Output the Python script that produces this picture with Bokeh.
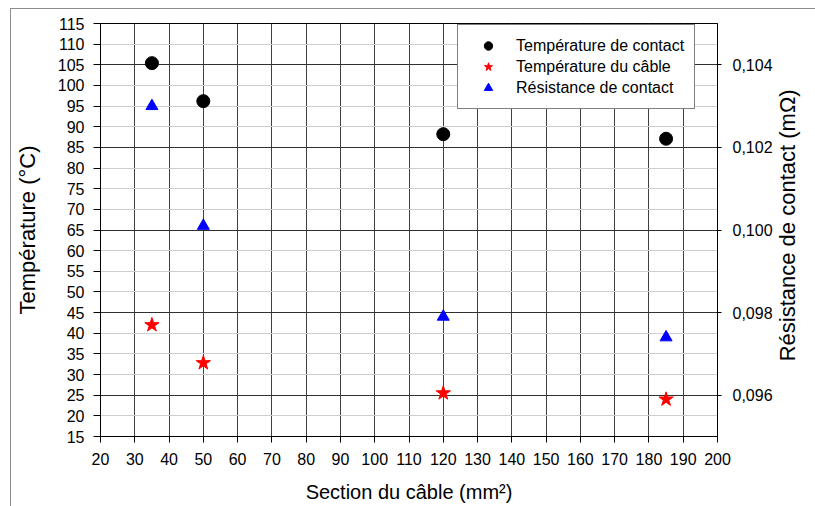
import math
from bokeh.plotting import figure
from bokeh.models import (Range1d, LinearAxis, FixedTicker, Grid, Legend, LegendItem,
                          CustomJSTickFormatter)
from bokeh.embed import file_html
from bokeh.resources import INLINE

# ---- data ----
sections = [35, 50, 120, 185]                  # Section du câble (mm²)
temp_contact = [105.4, 96.2, 88.2, 87.1]       # Température de contact (°C)
temp_cable = [42.0, 32.8, 25.5, 24.0]          # Température du câble (°C)
res_contact = [0.1030, 0.1001, 0.0979, 0.0974] # Résistance de contact (mΩ)

x_ticks = list(range(20, 201, 10))
y_ticks = list(range(15, 116, 5))
r_ticks = [0.096, 0.098, 0.100, 0.102, 0.104]
r_labels = ["0,096", "0,098", "0,100", "0,102", "0,104"]
right_title = "Résistance de contact (mΩ)"

FONT = "Liberation Sans"
GREY = "#8c8c8c"

p = figure(width=815, height=506, output_backend="svg", toolbar_location=None, tools="",
           x_range=Range1d(20, 200), y_range=Range1d(15, 115),
           min_border_left=100, min_border_right=95, min_border_top=23, min_border_bottom=70,
           background_fill_color="white", border_fill_color=None)
# outer chart-area border (grey lines on the left and top, as in the cropped original)
p.styles = {
    "background-color": "white",
    "background-image": f"linear-gradient({GREY}, {GREY}), linear-gradient({GREY}, {GREY})",
    "background-size": "1px 100%, 100% 1px",
    "background-position": "10px 8px, 10px 8px",
    "background-repeat": "no-repeat",
}
p.extra_y_ranges = {"r": Range1d(0.095, 0.105)}
p.outline_line_color = "black"
p.outline_line_width = 1

# grids
p.xgrid.ticker = FixedTicker(ticks=x_ticks)
p.xgrid.grid_line_color = "#404040"
p.ygrid.ticker = FixedTicker(ticks=y_ticks)
p.ygrid.grid_line_color = "#cfcfcf"
dark_grid = Grid(dimension=1, y_range_name="r", ticker=FixedTicker(ticks=r_ticks),
                 grid_line_color="#303030")
p.add_layout(dark_grid)

def style_axis(ax, tick_out, label_standoff, title_standoff, title_size):
    ax.axis_line_color = "black"
    ax.major_tick_line_color = "black"
    ax.major_tick_out = tick_out
    ax.major_tick_in = 0
    ax.minor_tick_line_color = None
    ax.major_label_text_font = FONT
    ax.major_label_text_font_size = "16px"
    ax.major_label_text_color = "black"
    ax.major_label_standoff = label_standoff
    ax.axis_label_text_font = FONT
    ax.axis_label_text_font_size = title_size
    ax.axis_label_text_font_style = "normal"
    ax.axis_label_text_color = "black"
    ax.axis_label_standoff = title_standoff

xa = p.xaxis[0]
xa.ticker = FixedTicker(ticks=x_ticks)
xa.axis_label = "Section du câble (mm²)"
style_axis(xa, 6, 10, 13, "20px")

ya = p.yaxis[0]
ya.ticker = FixedTicker(ticks=y_ticks)
ya.axis_label = "Température (°C)"
style_axis(ya, 7, 9, 15, "22px")

ra = LinearAxis(y_range_name="r", ticker=FixedTicker(ticks=r_ticks),
                formatter=CustomJSTickFormatter(
                    args=dict(rvals=r_ticks, rlabs=r_labels),
                    code="const i = rvals.findIndex(t => Math.abs(t - tick) < 1e-9);"
                         "return i >= 0 ? rlabs[i] : String(tick);"))
style_axis(ra, 4, 11, 9, "22px")
p.add_layout(ra, "right")

# right-hand title, reading bottom-to-top: drawn as the single label of a bare axis,
# whose one tick sits where the text starts (label is left-anchored at its tick)
TITLE_START = 33.2   # screen anchor, in the left-axis scale
ta = LinearAxis(ticker=FixedTicker(ticks=[TITLE_START]),
                formatter=CustomJSTickFormatter(args=dict(txt=right_title), code="return txt;"),
                major_label_orientation=math.pi / 2)
ta.axis_line_color = None
ta.major_tick_line_color = None
ta.minor_tick_line_color = None
ta.major_tick_out = 0
ta.major_tick_in = 0
ta.major_label_standoff = 12
ta.major_label_text_font = FONT
ta.major_label_text_font_size = "22px"
ta.major_label_text_color = "black"
p.add_layout(ta, "right")

# series
r_circ = p.scatter(sections, temp_contact, marker="circle", size=13,
                   fill_color="black", line_color="black")
r_line = p.line(x=[], y=[], line_color="#ff8c8c", line_width=1)
r_star = p.scatter(sections, temp_cable, marker="star", size=15,
                   fill_color="red", line_color="red")
r_tri = p.scatter(sections, res_contact, marker="triangle", size=12,
                  fill_color="blue", line_color="blue", y_range_name="r")

legend = Legend(items=[
    LegendItem(label="Température de contact", renderers=[r_circ]),
    LegendItem(label="Température du câble", renderers=[r_line, r_star]),
    LegendItem(label="Résistance de contact", renderers=[r_tri]),
], location=(357, 327), padding=10, spacing=0, margin=0,
    glyph_width=40, glyph_height=21, label_height=21, label_standoff=8,
    label_text_font=FONT, label_text_font_size="16px", label_text_color="black",
    border_line_color="black", border_line_width=1,
    background_fill_color="white", background_fill_alpha=1)
p.add_layout(legend)

open("out.html", "w").write(file_html(p, INLINE))
